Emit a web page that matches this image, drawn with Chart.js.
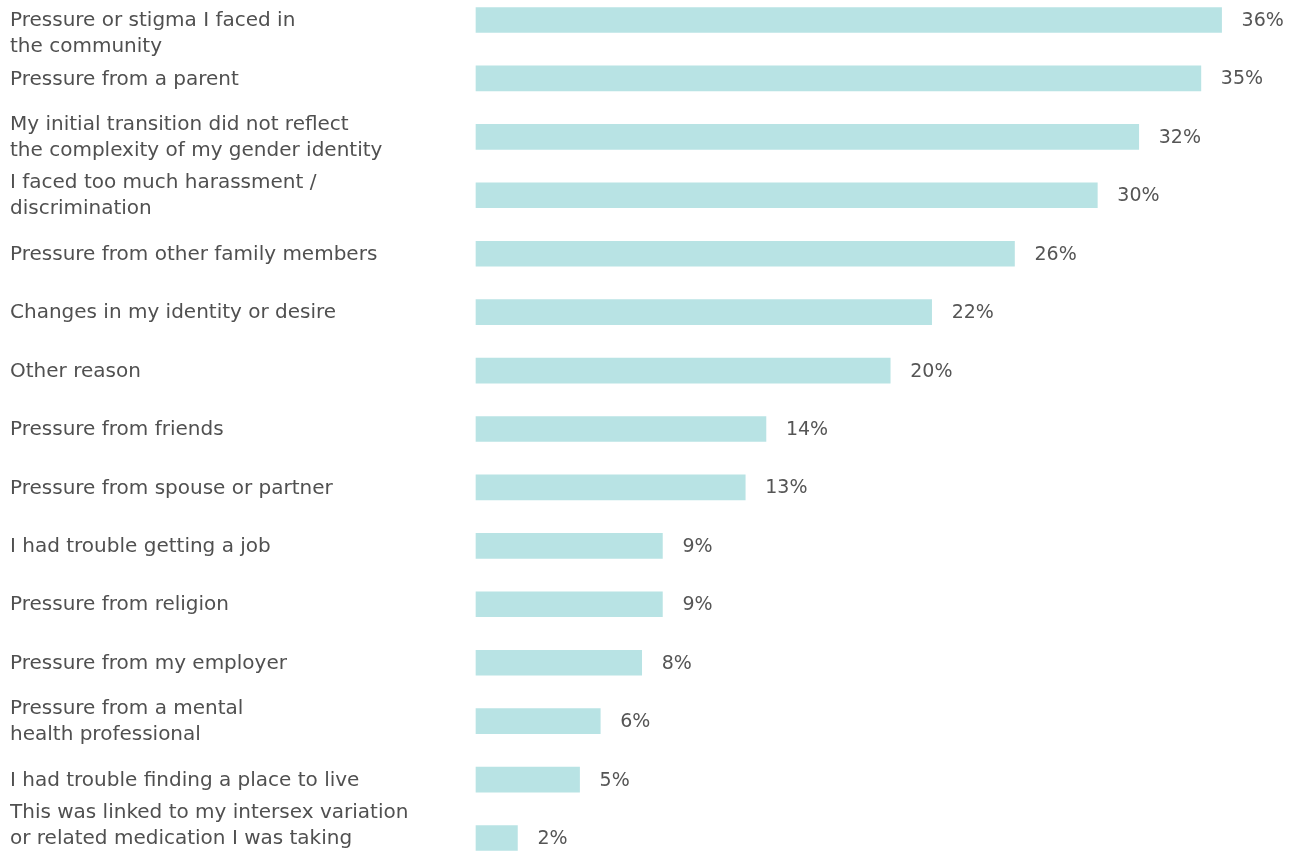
<!DOCTYPE html>
<html>
<head>
<meta charset="utf-8">
<script src="https://cdn.jsdelivr.net/npm/chart.js@4"></script>
<style>
  html, body { margin: 0; padding: 0; background: #fff; }
  #wrap { width: 1296px; height: 857px; }
</style>
</head>
<body>
<div id="wrap"><canvas id="reasons"></canvas></div>
<script>
const categories = [
  ['Pressure or stigma I faced in', 'the community'],
  'Pressure from a parent',
  ['My initial transition did not reflect', 'the complexity of my gender identity'],
  ['I faced too much harassment /', 'discrimination'],
  'Pressure from other family members',
  'Changes in my identity or desire',
  'Other reason',
  'Pressure from friends',
  'Pressure from spouse or partner',
  'I had trouble getting a job',
  'Pressure from religion',
  'Pressure from my employer',
  ['Pressure from a mental', 'health professional'],
  'I had trouble finding a place to live',
  ['This was linked to my intersex variation', 'or related medication I was taking']
];
const percents = [36, 35, 32, 30, 26, 22, 20, 14, 13, 9, 9, 8, 6, 5, 2];

const FONT = '"DejaVu Sans", "Open Sans", sans-serif';

// first and last labels sit on the canvas edge: pad them with a blank line
// so the two text lines stay inside the picture
const tickLabels = categories.map((c, i) => {
  if (i === 0) return [''].concat(c);
  if (i === categories.length - 1) return c.concat(['']);
  return c;
});

// percentage text just right of each bar
const valueLabels = {
  id: 'valueLabels',
  afterDatasetsDraw(chart) {
    const ctx = chart.ctx;
    const meta = chart.getDatasetMeta(0);
    ctx.save();
    ctx.font = '19px ' + FONT;
    ctx.fillStyle = '#555';
    ctx.textBaseline = 'middle';
    ctx.textAlign = 'left';
    meta.data.forEach((bar, i) => {
      ctx.fillText(percents[i] + '%', bar.x + 20, bar.y + 1);
    });
    ctx.restore();
  }
};

new Chart(document.getElementById('reasons'), {
  type: 'bar',
  data: {
    labels: tickLabels,
    datasets: [{
      data: percents,
      backgroundColor: '#b8e3e4',
      barThickness: 25,
      clip: false
    }]
  },
  options: {
    indexAxis: 'y',
    responsive: true,
    maintainAspectRatio: false,
    animation: false,
    layout: { padding: { left: 10, right: 33, top: 20, bottom: 19 } },
    plugins: {
      legend: { display: false },
      tooltip: { enabled: false }
    },
    scales: {
      x: {
        display: false,
        min: 0,
        max: 38
      },
      y: {
        offset: false,
        grid: { display: false },
        border: { display: false },
        afterFit(scale) {
          scale.width = 466;
          scale.paddingTop = 0;
          scale.paddingBottom = 0;
        },
        ticks: {
          autoSkip: false,
          crossAlign: 'far',
          color: '#505050',
          font: { family: FONT, size: 20, lineHeight: 1.3 },
          padding: 0,
          labelOffset: 1
        }
      }
    }
  },
  plugins: [valueLabels]
});
</script>
</body>
</html>
